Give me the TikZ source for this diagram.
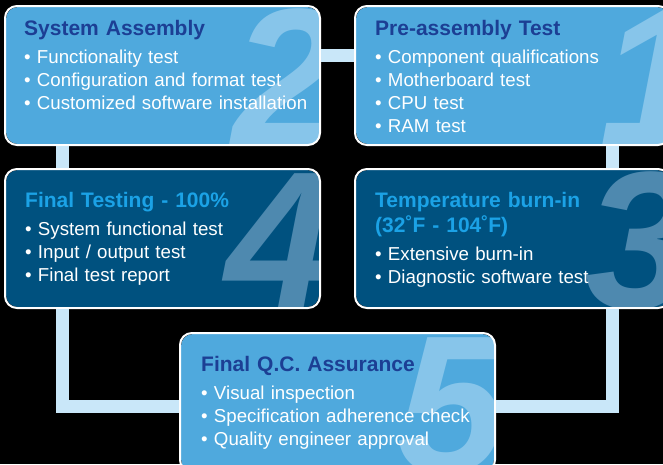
\documentclass[tikz,border=0pt]{standalone}
\usepackage{fontspec}
\setmainfont{Liberation Sans}
\usetikzlibrary{calc}
\definecolor{lightfill}{HTML}{4FA9DD}
\definecolor{darkfill}{HTML}{00517F}
\definecolor{lightnum}{HTML}{87C5EA}
\definecolor{darknum}{HTML}{4E89AF}
\definecolor{navytitle}{HTML}{1C3F94}
\definecolor{skytitle}{HTML}{1BA2E6}
\definecolor{barblue}{HTML}{C9E7F9}
\begin{document}
\begin{tikzpicture}[x=1pt, y=-1pt,
    box/.style={line width=2pt, rounded corners=12pt,
        minimum width=313pt, minimum height=137pt, inner sep=0pt},
    bignum/.style={anchor=base west, inner sep=0pt,
        font=\fontsize{196}{196}\selectfont\bfseries\itshape},
    hd/.style={anchor=base west, inner sep=0pt, text width=290pt, align=left,
        font=\fontsize{21}{25}\selectfont\bfseries},
    items/.style={anchor=base west, inner sep=0pt, text width=300pt, align=left,
        text=white, font=\fontsize{18.7}{23}\selectfont},
    bar/.style={draw=barblue, line width=13pt, shorten <=1pt, shorten >=1pt}]
        \useasboundingbox (0,0) rectangle (663,464);
        \clip (0,0) rectangle (663,464);
        \fill[black] (0,0) rectangle (663,464);
        \node[box, fill=lightfill] (asm) at (162.5,75.5) {};
        \node[box, fill=lightfill] (pre) at (512.5,75.5) {};
        \node[box, fill=darkfill] (fin) at (162.5,238.5) {};
        \node[box, fill=darkfill] (burn) at (512.5,238.5) {};
        \coordinate (mid) at ($(fin.south)!0.5!(burn.south)$);
        \node[box, fill=lightfill] (qc) at ($(mid)+(0,94.5)$) {};
        \foreach \b/\n/\c/\d in {asm/2/lightnum/-88, pre/1/lightnum/-71,
            fin/4/darknum/-95, burn/3/darknum/-85, qc/5/lightnum/-98} {
            \begin{scope}
                \clip[rounded corners=12pt] (\b.north west) rectangle (\b.south east);
                \node[bignum, \c] at ($(\b.south east)+(\d,0)$) {\n};
            \end{scope}
            \draw[white, line width=2pt, rounded corners=12pt]
            (\b.north west) rectangle (\b.south east);
        }
        \node[hd, navytitle] at ($(asm.north west)+(19,29)$) {System Assembly};
        \node[items] at ($(asm.north west)+(19,57)$)
        {• Functionality test\\• Configuration and format test\\• Customized software installation};
        \node[hd, navytitle] at ($(pre.north west)+(20,29)$) {Pre-assembly Test};
        \node[items] at ($(pre.north west)+(20,57)$)
        {• Component qualifications\\• Motherboard test\\• CPU test\\• RAM test};
        \node[hd, skytitle] at ($(fin.north west)+(20,38)$) {Final Testing - 100\%};
        \node[items] at ($(fin.north west)+(20,66)$)
        {• System functional test\\• Input / output test\\• Final test report};
        \node[hd, skytitle] at ($(burn.north west)+(20,38)$) {Temperature burn-in\\(32˚F - 104˚F)};
        \node[items] at ($(burn.north west)+(20,91)$)
        {• Extensive burn-in\\• Diagnostic software test};
        \node[hd, navytitle] at ($(qc.north west)+(21,38)$) {Final Q.C. Assurance};
        \node[items] at ($(qc.north west)+(21,66)$)
        {• Visual inspection\\• Specification adherence check\\• Quality engineer approval};
        \draw[bar] ($(asm.east)+(0,-20)$) -- ($(pre.west)+(0,-20)$);
        \draw[bar] ($(asm.south)+(-100,0)$) -- ($(fin.north)+(-100,0)$);
        \draw[bar] ($(pre.south)+(100,0)$) -- ($(burn.north)+(100,0)$);
        \draw[bar] ($(fin.south)+(-100,0)$) |- ($(qc.west)+(0,4)$);
        \draw[bar] ($(burn.south)+(100,0)$) |- ($(qc.east)+(0,4)$);
    \end{tikzpicture}
\end{document}
